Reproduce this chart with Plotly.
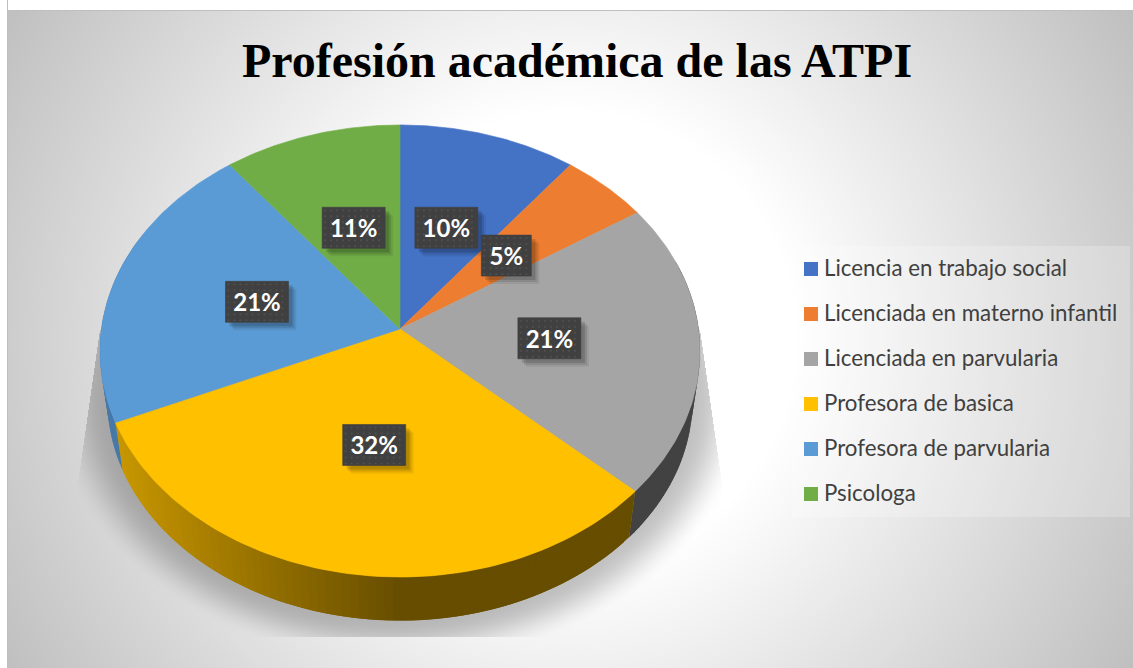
import numpy as np
import plotly.graph_objects as go

categories = ["Licencia en trabajo social", "Licenciada en materno infantil",
              "Licenciada en parvularia", "Profesora de basica",
              "Profesora de parvularia", "Psicologa"]
counts = [2, 1, 4, 6, 4, 2]
percent_labels = ["10%", "5%", "21%", "32%", "21%", "11%"]
face_colors = ["#4472C4", "#ED7D31", "#A5A5A5", "#FFC000", "#5B9BD5", "#70AD47"]
title_text = "Profesión académica de las ATPI"

W, H = 1133, 668
CX, CY, RX, RY, K = 400.0, 329.0, 298.6, 223.9, 0.0973   # perspective disc
FONT = "Lato"


def disc(theta, r=1.0):
    """Clockwise angle from 12 o'clock (radians) -> pixel position on the tilted disc."""
    u, v = r * np.sin(theta), r * np.cos(theta)
    d = 1 + K * v
    return CX + RX * u / d, CY - RY * v / d


def rim(x, y):
    """Top-rim point -> matching bottom-rim point of the extruded wall."""
    return CX + 0.975 * (x - CX), 0.975 * y + 58


def rgb(hexcolor, f=1.0):
    c = [int(hexcolor[i:i + 2], 16) for i in (1, 3, 5)]
    return "rgb(%d,%d,%d)" % tuple(round(v * f) for v in c)


# ---------- background gradient and soft shadow as one greyscale raster
xs = np.arange(W) + 0.5
ys = np.arange(H) + 0.5
X, Y = np.meshgrid(xs, ys)
dist = np.hypot(X - 568, Y - 339)
bg = 255 - 0.15 * np.clip(dist - 230, 0, None)
rr = np.hypot((X - 400) / 293, (Y - 395) / 226)
t = np.clip(1 - 260 * (rr - 1) / 50, 0, 1)
alpha = 0.24 * t * t * (3 - 2 * t)
inside = (np.abs(X - 400) <= 300 + (Y - 330) * 20 / 140) & (Y > 330) & (Y < 637)
bg = bg * (1 - alpha * inside)
bg[:, :7] = 255
bg[:10, :] = 255
bg[:, 7] = 191
bg[10, 7:] = 191

fig = go.Figure()
fig.add_trace(go.Heatmap(x0=0.5, dx=1, y0=0.5, dy=1, z=bg.astype(np.uint8), zmin=0, zmax=255,
                         colorscale=[[0, "#000000"], [1, "#ffffff"]], showscale=False,
                         zsmooth="fast", hoverinfo="skip"))

edges = np.concatenate([[0], np.cumsum(counts)]) / sum(counts) * 2 * np.pi


def poly(px, py, color, name=None, lw=0.6):
    fig.add_trace(go.Scatter(x=px, y=py, mode="lines", fill="toself", fillcolor=color,
                             line=dict(color=color, width=lw), showlegend=False,
                             hoverinfo="skip" if name is None else "text", text=name))


# ---------- extruded wall, overlapping strips carry the horizontal shading
for i, col in enumerate(face_colors):
    a0, a1 = edges[i], edges[i + 1]
    n = max(2, int((a1 - a0) / np.radians(1.5)))
    stops = np.linspace(a0, a1, n + 1)
    step = stops[1] - stops[0]
    for s0 in stops[:-1]:
        if np.pi / 2 * 0.8 < s0 + step / 2 < 2 * np.pi * 0.82:
            th = np.linspace(s0, min(s0 + 2 * step, a1), 6)
            tx, ty = disc(th)
            bx, by = rim(tx, ty)
            cx_strip = disc(s0 + step / 2)[0]
            f = 0.4 + 0.38 * np.clip((CX - cx_strip) / 283, 0, 1)
            poly(np.r_[tx, bx[::-1], tx[0]], np.r_[ty, by[::-1], ty[0]], rgb(col, f), lw=0)

# ---------- top faces
for i, col in enumerate(face_colors):
    th = np.linspace(edges[i], edges[i + 1], 90)
    ax, ay = disc(th)
    poly(np.r_[CX, ax, CX], np.r_[CY, ay, CY], col, categories[i])

# ---------- data labels: dark dotted plate, offset shadow, white text
mids = (edges[:-1] + edges[1:]) / 2
lx, ly = disc(mids, 0.5)
dx_all, dy_all = [], []
for x, y, lab in zip(lx, ly, percent_labels):
    hw = 25 if len(lab) == 2 else 31.5
    hh = 20.5
    for off, a in ((8, 0.07), (6, 0.10), (4, 0.14)):
        fig.add_trace(go.Scatter(
            x=[x - hw + off, x + hw + off, x + hw + off, x - hw + off, x - hw + off],
            y=[y - hh + off, y - hh + off, y + hh + off, y + hh + off, y - hh + off],
            mode="lines", fill="toself", fillcolor="rgba(0,0,0,%g)" % a,
            line=dict(width=0), showlegend=False, hoverinfo="skip"))
    poly([x - hw, x + hw, x + hw, x - hw, x - hw],
         [y - hh, y - hh, y + hh, y + hh, y - hh], "#404040")
    gx = np.arange(x - hw + 3, x + hw - 1, 6)
    gy = np.arange(y - hh + 3, y + hh - 1, 6)
    mx, my = np.meshgrid(gx, gy)
    dx_all.extend(mx.ravel())
    dy_all.extend(my.ravel())
fig.add_trace(go.Scatter(x=dx_all, y=dy_all, mode="markers",
                         marker=dict(symbol="square", size=2, color="#4e4e4e", line=dict(width=0)),
                         showlegend=False, hoverinfo="skip"))
fig.add_trace(go.Scatter(x=lx, y=ly + 3.5, mode="text", text=percent_labels,
                         textfont=dict(family=FONT, size=24, color="#ffffff", weight="bold"),
                         textposition="middle center", showlegend=False, hoverinfo="skip"))

# ---------- legend panel
L0, T0, L1, T1 = 792, 246, 1130, 517
fig.add_trace(go.Scatter(x=[L0, L1, L1, L0, L0], y=[T0, T0, T1, T1, T0], mode="lines",
                         fill="toself", fillcolor="rgba(255,255,255,0.22)",
                         line=dict(width=0), showlegend=False, hoverinfo="skip"))
rows = T0 + 23 + 45 * np.arange(len(categories))
fig.add_trace(go.Scatter(x=[811] * len(categories), y=rows, mode="markers",
                         marker=dict(symbol="square", size=14, color=face_colors, line=dict(width=0)),
                         showlegend=False, hoverinfo="skip"))
for name, yy in zip(categories, rows):
    fig.add_annotation(x=824, y=yy, xref="x", yref="y", text=name, showarrow=False,
                       xanchor="left", yanchor="middle", xshift=-2, yshift=1.5,
                       font=dict(family=FONT, size=22.3, color="#404040"))

fig.update_layout(
    width=W, height=H, margin=dict(l=0, r=0, t=0, b=0), autosize=False,
    paper_bgcolor="#ffffff", plot_bgcolor="#ffffff",
    title=dict(text="<b>%s</b>" % title_text, x=577 / W, xanchor="center",
               y=1 - 60 / H, yanchor="middle",
               font=dict(family="Liberation Serif", size=48, color="#000000")),
    xaxis=dict(range=[0, W], visible=False, fixedrange=True),
    yaxis=dict(range=[H, 0], visible=False, fixedrange=True),
    showlegend=False,
)
fig.write_html("out.html", config={"displayModeBar": False},
               post_script="document.body.style.margin='0';document.documentElement.style.overflow='hidden';")
